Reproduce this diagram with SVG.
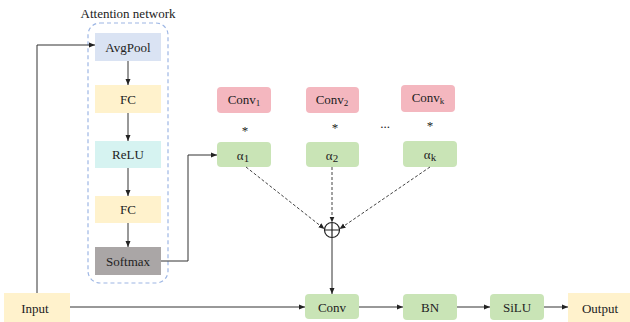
<svg xmlns="http://www.w3.org/2000/svg" width="630" height="322" viewBox="0 0 630 322">
<style>
text{font-family:"Liberation Serif",serif;font-size:13px;fill:#222;text-anchor:middle}
.ln{fill:none;stroke:#333;stroke-width:1}
.dl{fill:none;stroke:#444;stroke-width:1;stroke-dasharray:3,2}
.y{fill:#fff2cc}
.g{fill:#c9e4b6}
.p{fill:#f4b7bf}
</style>
<defs>
<marker id="a" viewBox="0 0 6 6" refX="6" refY="3" markerWidth="6" markerHeight="6" orient="auto" markerUnits="userSpaceOnUse"><path d="M0,0.5L6,3L0,5.5z" fill="#222"/></marker>
</defs>
<g id="attention">
<rect x="88" y="23" width="80" height="260" rx="12" fill="none" stroke="#9db6e4" stroke-width="1.2" stroke-dasharray="4,3"/>
<text font-family="Liberation Serif" x="128" y="18">Attention network</text>
</g>
<g id="avgpool"><rect x="95" y="33" width="66" height="28" fill="#dae3f3"/><text font-family="Liberation Serif" x="128" y="51.5">AvgPool</text></g>
<g id="fc1"><rect class="y" x="95" y="85" width="66" height="28"/><text font-family="Liberation Serif" x="128" y="103.5">FC</text></g>
<g id="relu"><rect x="95" y="141" width="66" height="27" fill="#d6f3f1"/><text font-family="Liberation Serif" x="128" y="159">ReLU</text></g>
<g id="fc2"><rect class="y" x="95" y="196" width="66" height="27"/><text font-family="Liberation Serif" x="128" y="214">FC</text></g>
<g id="softmax"><rect x="95" y="247" width="66" height="28" fill="#aaa6a6"/><text font-family="Liberation Serif" x="128" y="265.5">Softmax</text></g>
<g id="input"><rect class="y" x="4" y="293" width="66" height="29"/><text font-family="Liberation Serif" x="35" y="312.5">Input</text></g>
<g id="conv1"><rect class="p" x="217" y="87" width="54" height="26" rx="4"/><text font-family="Liberation Serif" x="244" y="104">Conv<tspan font-size="9" dy="2">1</tspan></text></g>
<g id="conv2"><rect class="p" x="306" y="87" width="53" height="26" rx="4"/><text font-family="Liberation Serif" x="332" y="104">Conv<tspan font-size="9" dy="2">2</tspan></text></g>
<g id="convk"><rect class="p" x="401" y="85" width="54" height="27" rx="4"/><text font-family="Liberation Serif" x="428" y="102">Conv<tspan font-size="9" dy="2">k</tspan></text></g>
<g id="stars">
<text font-family="Liberation Serif" x="245" y="135">*</text>
<text font-family="Liberation Serif" x="335" y="132">*</text>
<text font-family="Liberation Serif" x="385" y="128">...</text>
<text font-family="Liberation Serif" x="430" y="130">*</text>
</g>
<g id="alpha1"><rect class="g" x="217" y="142" width="54" height="25" rx="4"/><text font-family="Liberation Serif" x="243" y="160" font-size="15">α<tspan font-size="11" dy="2">1</tspan></text></g>
<g id="alpha2"><rect class="g" x="306" y="142" width="53" height="25" rx="4"/><text font-family="Liberation Serif" x="332" y="160" font-size="15">α<tspan font-size="11" dy="2">2</tspan></text></g>
<g id="alphak"><rect class="g" x="403" y="141" width="54" height="26" rx="4"/><text font-family="Liberation Serif" x="430" y="159" font-size="15">α<tspan font-size="11" dy="2">k</tspan></text></g>
<g id="sum"><circle cx="332" cy="230" r="7.5" fill="#fff" stroke="#222" stroke-width="1.2"/><path d="M324.5,230H339.5M332,222.5V237.5" stroke="#222" stroke-width="1.2"/></g>
<g id="conv"><rect class="g" x="305" y="294" width="54" height="25" rx="4"/><text font-family="Liberation Serif" x="332" y="311.5">Conv</text></g>
<g id="bn"><rect class="g" x="403" y="294" width="54" height="26" rx="4"/><text font-family="Liberation Serif" x="430" y="311.5">BN</text></g>
<g id="silu"><rect class="g" x="490" y="294" width="54" height="26" rx="4"/><text font-family="Liberation Serif" x="517" y="311.5">SiLU</text></g>
<g id="output"><rect class="y" x="568" y="293" width="62" height="29"/><text font-family="Liberation Serif" x="600" y="312.5">Output</text></g>
<g id="connectors">
<path class="ln" d="M37,293V45H95" marker-end="url(#a)"/>
<path class="ln" d="M128,61V85" marker-end="url(#a)"/>
<path class="ln" d="M128,113V141" marker-end="url(#a)"/>
<path class="ln" d="M128,168V196" marker-end="url(#a)"/>
<path class="ln" d="M128,223V247" marker-end="url(#a)"/>
<path class="ln" d="M161,261H188V155H217" marker-end="url(#a)"/>
<path class="dl" d="M246,167L324.5,229" marker-end="url(#a)"/>
<path class="dl" d="M332,167V222.5" marker-end="url(#a)"/>
<path class="dl" d="M430,167L339.5,229" marker-end="url(#a)"/>
<path class="ln" d="M332,237.5V294" marker-end="url(#a)"/>
<path class="ln" d="M70,307H305" marker-end="url(#a)"/>
<path class="ln" d="M359,307H403" marker-end="url(#a)"/>
<path class="ln" d="M457,307H490" marker-end="url(#a)"/>
<path class="ln" d="M544,307H568" marker-end="url(#a)"/>
</g>
</svg>
